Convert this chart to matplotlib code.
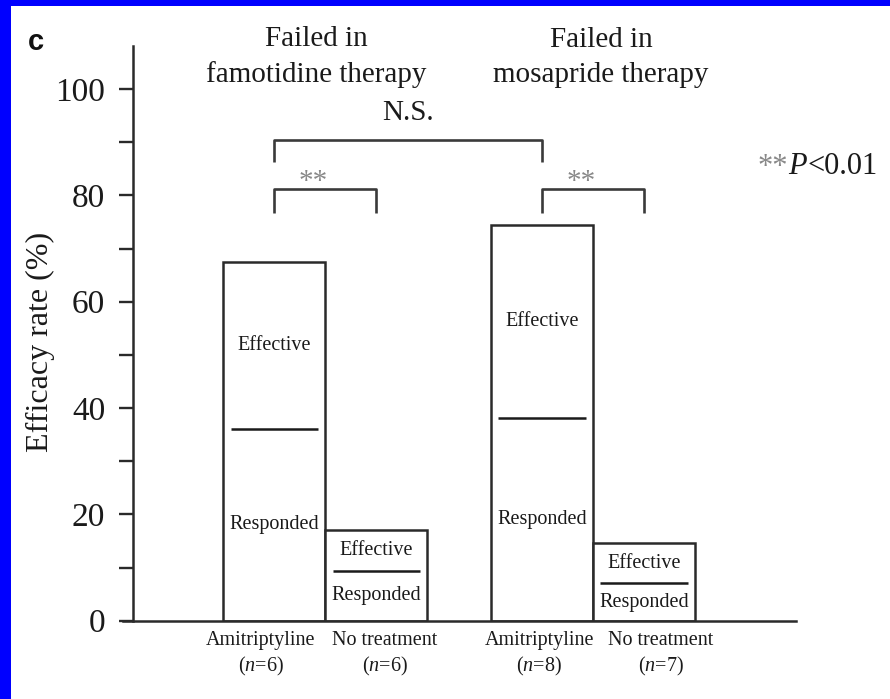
import matplotlib
matplotlib.use('Agg')
import matplotlib.pyplot as plt
from matplotlib.patches import Rectangle

# ---------------- data ----------------
groups = ['Failed in\nfamotidine therapy', 'Failed in\nmosapride therapy']
treatments = ['Amitriptyline', 'No treatment', 'Amitriptyline', 'No treatment']
n_values = [6, 6, 8, 7]
effective_total = [67.5, 17.0, 74.5, 14.7]   # top of bar (Effective)
responded = [36.0, 9.4, 38.1, 7.0]           # Responded part
yticks = [0, 20, 40, 60, 80, 100]
comparisons = [(0, 2, 'N.S.'), (0, 1, '**'), (2, 3, '**')]

# ---------------- style ----------------
plt.rcParams['font.family'] = ['Liberation Serif', 'DejaVu Serif']
plt.rcParams['mathtext.fontset'] = 'custom'
plt.rcParams['mathtext.rm'] = 'Liberation Serif'
plt.rcParams['mathtext.it'] = 'Liberation Serif:italic'

W, H = 890, 699
fig = plt.figure(figsize=(W / 100, H / 100), dpi=100)
fig.patch.set_facecolor('white')

y0_px, y100_px = 620.7, 89.0
ppu = (y0_px - y100_px) / 100.0
ytop = 108.0
ax_top_px = y0_px - ytop * ppu
ax = fig.add_axes([133 / W, 1 - y0_px / H, (796 - 133) / W, (y0_px - ax_top_px) / H])

dark = '#2a2a2a'
group_centers = [0.5, 3.125]
xpos = []
for g in group_centers:
    xpos += [g - 0.5, g + 0.5]

ax.bar(xpos, effective_total, width=1.0, facecolor='white', edgecolor=dark,
       linewidth=1.8, zorder=2)
for x, r, t in zip(xpos, responded, effective_total):
    ax.hlines(r, x - 0.43, x + 0.43, color='#1a1a1a', lw=1.8, zorder=3)
    ax.text(x, (r + t) / 2, 'Effective', ha='center', va='center', fontsize=14.5, color='#1a1a1a', zorder=4)
    ax.text(x, r / 2, 'Responded', ha='center', va='center', fontsize=14.5, color='#1a1a1a', zorder=4)

ax.set_xlim(-1.387, 5.113)
ax.set_ylim(0, ytop)
ax.set_yticks(yticks)
ax.set_yticklabels([str(v) for v in yticks], fontsize=24, color='#1a1a1a')
ax.set_yticks([v + 10 for v in yticks[:-1]], minor=True)
ax.tick_params(axis='y', which='both', length=10, width=1.7, direction='out', color=dark, pad=10)
ax.set_xticks([])
for s in ['top', 'right']:
    ax.spines[s].set_visible(False)
for s in ['left', 'bottom']:
    ax.spines[s].set_linewidth(1.8)
    ax.spines[s].set_color(dark)
ax.spines['bottom'].set_bounds(-1.387 - 10 / 102, 5.113)
ax.spines['bottom'].set_position(('data', 0))
ax.set_ylabel('Efficacy rate (%)', fontsize=23, color='#1a1a1a')
ax.yaxis.set_label_coords(-(133 - 55) / (796 - 133), 0.485)

# x labels
label_dx = [-13.5, 8.5, -3, 16.5]
for x, name, n, dx in zip(xpos, treatments, n_values, label_dx):
    ax.annotate(name, xy=(x, 0), xytext=(dx, -20), textcoords='offset pixels',
                ha='center', va='center', fontsize=14.5, color='#1a1a1a', annotation_clip=False)
    ax.annotate(r'($\mathit{n}$=%d)' % n, xy=(x, 0), xytext=(dx, -46), textcoords='offset pixels',
                ha='center', va='center', fontsize=14.5, color='#1a1a1a', annotation_clip=False)

# group titles
title_dx = [-9.5, 8]
for g, title, dx in zip(group_centers, groups, title_dx):
    ax.annotate(title, xy=(g, ytop), xytext=(dx, (ax_top_px - 57)), textcoords='offset pixels',
                ha='center', va='center', fontsize=21, color='#1a1a1a', linespacing=1.45,
                annotation_clip=False)

# brackets
for i, j, lab in comparisons:
    if lab == 'N.S.':
        ylow, yhigh, ytxt, dx, col = 86.3, 90.5, 95.5, 0, '#1a1a1a'
    else:
        ylow, yhigh, ytxt, dx, col = 76.7, 81.2, 82.5, -12, '#888888'
    ax.plot([xpos[i], xpos[i], xpos[j], xpos[j]], [ylow, yhigh, yhigh, ylow],
            color='#3a3a3a', lw=1.9, clip_on=False, solid_capstyle='butt')
    ax.annotate(lab, xy=((xpos[i] + xpos[j]) / 2, ytxt), xytext=(dx, 0), textcoords='offset pixels',
                ha='center', va='center', fontsize=21, color=col, annotation_clip=False)

# significance note
t1 = fig.text(758 / W, 1 - 167 / H, '**', fontsize=22, color='#888888', ha='left', va='center')
t2 = ax.annotate('P', xy=(1, 0), xycoords=t1, ha='left', va='bottom', fontsize=22,
                 style='italic', color='#1a1a1a')
t3 = ax.annotate('<0.01', xy=(1, 0), xycoords=t2, ha='left', va='bottom', fontsize=22,
                 color='#1a1a1a')

# panel letter
fig.text(28 / W, 1 - 42 / H, 'c', fontsize=21, fontweight='bold', family='Liberation Sans',
         ha='left', va='center', color='#111111')

# blue frame (top and left)
fig.add_artist(Rectangle((0, 0), 11 / W, 1, transform=fig.transFigure, color='#0000ff', lw=0))
fig.add_artist(Rectangle((0, 1 - 6 / H), 1, 6 / H, transform=fig.transFigure, color='#0000ff', lw=0))

fig.savefig('out.png', dpi=100)
